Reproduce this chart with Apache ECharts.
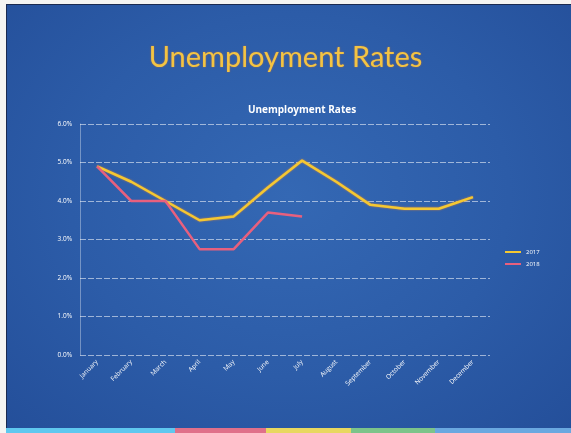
<!DOCTYPE html>
<html>
<head>
<meta charset="utf-8">
<script src="https://cdn.jsdelivr.net/npm/echarts@6/dist/echarts.min.js"></script>
<style>
html,body{margin:0;padding:0;background:#f4f4f2;width:571px;height:433px;overflow:hidden;}
#slide{position:absolute;left:6px;top:4px;width:565px;height:424px;
 background:radial-gradient(ellipse at 50% 45%, #3468b4 0%, #2c5ca8 55%, #244f9a 100%);
 border-top:1px solid #1a2a50;border-left:1px solid #1a2a50;}
#strip{position:absolute;left:6px;top:428px;width:565px;height:5px;
 background:linear-gradient(to right,#5fc8ef 0,#5fc8ef 30%,#e0708a 30%,#e0708a 46%,#e8d860 46%,#e8d860 61%,#7cc48a 61%,#7cc48a 76%,#6aa8e0 76%,#6aa8e0 100%);}
#chart{position:absolute;left:0;top:0;width:571px;height:433px;}
</style>
</head>
<body>
<div id="slide"></div>
<div id="strip"></div>
<div id="chart"></div>
<script>
const slideTitle = 'Unemployment Rates';
const chartTitle = 'Unemployment Rates';
const months = ['January','February','March','April','May','June','July','August','September','October','November','December'];
const yTicks = [0, 1, 2, 3, 4, 5, 6];
const rate2017 = [4.9, 4.5, 4.0, 3.5, 3.6, 4.35, 5.05, 4.5, 3.9, 3.8, 3.8, 4.1];
const rate2018 = [4.9, 4.0, 4.0, 2.75, 2.75, 3.7, 3.6];

const chart = echarts.init(document.getElementById('chart'), null, {renderer:'canvas'});
chart.setOption({
  backgroundColor: 'transparent',
  animation: false,
  title: [
    {text: slideTitle, left: 'center', top: 38,
     textStyle: {color: '#f3c443', fontSize: 29, fontWeight: 'normal', fontFamily: 'Lato',
       textShadowColor: 'rgba(230,120,40,0.6)', textShadowBlur: 2}},
    {text: chartTitle, left: 297, textAlign: 'center', top: 100,
     textStyle: {color: '#ffffff', fontSize: 10, fontWeight: 'bold', fontFamily: 'Open Sans'}}
  ],
  legend: {
    orient: 'vertical', left: 500, top: 244, itemWidth: 16, itemHeight: 2, itemGap: 6,
    icon: 'rect',
    textStyle: {color: '#ffffff', fontSize: 6, fontFamily: 'Open Sans'},
    data: ['2017', '2018']
  },
  grid: {left: 80, right: 81, top: 124, bottom: 78},
  xAxis: {
    type: 'category', data: months, boundaryGap: true,
    axisLine: {show: false}, axisTick: {show: false},
    axisLabel: {rotate: 45, color: '#ffffff', fontSize: 6.5, fontFamily: 'Open Sans', margin: 6, interval: 0}
  },
  yAxis: {
    type: 'value', min: yTicks[0], max: yTicks[yTicks.length-1], interval: 1,
    axisLine: {show: true, lineStyle: {color: 'rgba(255,255,255,0.35)', width: 1}},
    axisTick: {show: false},
    axisLabel: {color: '#ffffff', fontSize: 6.5, fontFamily: 'Open Sans', margin: 8,
      formatter: v => v.toFixed(1) + '%'},
    splitLine: {lineStyle: {color: 'rgba(255,255,255,0.55)', width: 1, type: [6, 2]}}
  },
  series: [
    {name: '2017', type: 'line', data: rate2017, symbol: 'none',
     lineStyle: {color: '#f4c832', width: 2.5, shadowColor: 'rgba(240,140,40,0.8)', shadowBlur: 2},
     itemStyle: {color: '#f4c832'}},
    {name: '2018', type: 'line', data: rate2018, symbol: 'none',
     lineStyle: {color: '#e8607e', width: 2.5},
     itemStyle: {color: '#e8607e'}}
  ]
});
</script>
</body>
</html>
